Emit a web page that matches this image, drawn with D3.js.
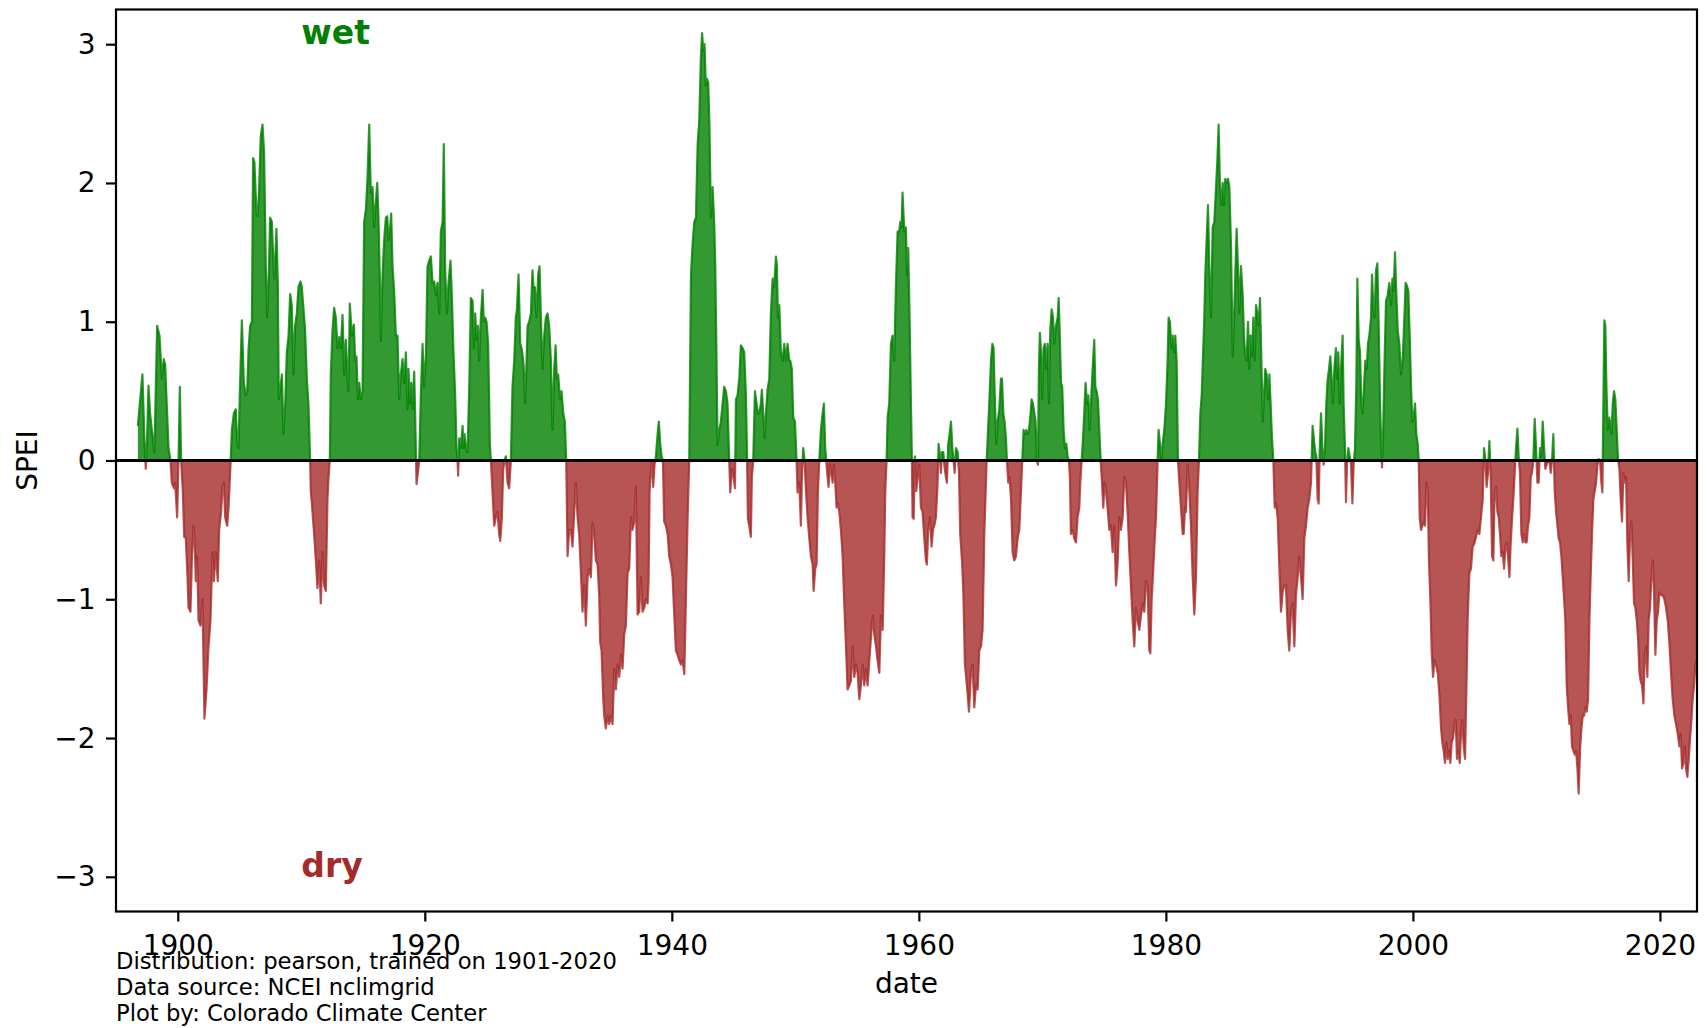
<!DOCTYPE html>
<html><head><meta charset="utf-8">
<script src="https://cdn.jsdelivr.net/npm/d3@7"></script>
<style>body{margin:0;background:#fff}svg{display:block}text{font-family:"DejaVu Sans",sans-serif}</style>
</head><body><svg id="c" width="1707" height="1028"></svg>
<script>
// [decimal year, SPEI]
const spei1896_1926 = [[1896.77,0.25],[1897.14,0.62],[1897.30,0.16],[1897.41,-0.06],[1897.52,0.16],[1897.63,0.54],[1897.76,0.34],[1897.90,0.22],[1898.11,0.06],[1898.33,0.97],[1898.52,0.90],[1898.71,0.59],[1898.87,0.73],[1898.98,0.69],[1899.14,0.34],[1899.25,0.09],[1899.41,0.00],[1899.52,-0.16],[1899.68,-0.20],[1899.79,-0.16],[1899.95,-0.41],[1900.06,0.00],[1900.17,0.53],[1900.27,0.00],[1900.41,-0.22],[1900.52,-0.55],[1900.65,-0.56],[1900.79,-0.84],[1900.87,-1.06],[1901.03,-1.09],[1901.14,-0.72],[1901.27,-0.47],[1901.35,-0.53],[1901.46,-0.87],[1901.57,-0.69],[1901.68,-1.15],[1901.84,-1.19],[1902.00,-1.00],[1902.16,-1.86],[1902.33,-1.65],[1902.49,-1.34],[1902.65,-1.15],[1902.81,-0.66],[1902.92,-0.87],[1903.08,-0.66],[1903.24,-0.87],[1903.35,-0.50],[1903.51,-0.37],[1903.62,-0.19],[1903.73,-0.16],[1903.84,-0.41],[1904.00,-0.47],[1904.11,-0.34],[1904.27,-0.03],[1904.38,0.22],[1904.54,0.34],[1904.70,0.37],[1904.81,0.12],[1904.92,0.09],[1905.02,0.47],[1905.19,1.01],[1905.35,0.56],[1905.51,0.47],[1905.62,0.50],[1905.73,0.80],[1905.86,0.97],[1906.00,1.00],[1906.10,2.18],[1906.21,2.15],[1906.37,1.78],[1906.48,1.76],[1906.59,1.97],[1906.72,2.34],[1906.86,2.42],[1906.99,2.22],[1907.13,1.40],[1907.24,1.03],[1907.35,1.28],[1907.48,1.75],[1907.62,1.72],[1907.75,1.40],[1907.83,1.31],[1907.99,1.67],[1908.10,1.28],[1908.18,0.44],[1908.32,0.53],[1908.43,0.62],[1908.56,0.19],[1908.70,0.41],[1908.83,0.78],[1908.97,0.90],[1909.10,1.20],[1909.23,1.12],[1909.37,0.62],[1909.50,0.97],[1909.64,1.06],[1909.77,1.25],[1909.94,1.29],[1910.04,1.25],[1910.21,1.06],[1910.31,0.94],[1910.45,0.59],[1910.58,0.41],[1910.72,0.00],
[1910.77,-0.22],[1910.91,-0.37],[1911.04,-0.53],[1911.18,-0.72],[1911.31,-0.92],[1911.45,-0.72],[1911.58,-1.03],[1911.72,-0.66],[1911.85,-0.90],[1911.99,-0.94],[1912.12,-0.28],[1912.21,-0.12],[1912.31,0.00],[1912.39,0.62],[1912.53,0.94],[1912.66,1.10],[1912.80,1.03],[1912.93,0.81],[1913.07,0.89],[1913.20,0.81],[1913.34,1.05],[1913.47,0.62],[1913.61,0.87],[1913.74,0.59],[1913.82,0.50],[1913.93,1.13],[1914.09,0.90],[1914.26,0.98],[1914.36,0.72],[1914.47,0.75],[1914.58,0.44],[1914.69,0.56],[1914.82,0.44],[1914.96,0.50],[1915.09,1.72],[1915.23,1.81],[1915.36,2.03],[1915.50,2.42],[1915.63,1.93],[1915.77,1.97],[1915.90,1.68],[1916.04,1.87],[1916.15,2.00],[1916.25,1.75],[1916.36,1.31],[1916.44,0.86],[1916.58,1.34],[1916.71,1.59],[1916.85,1.75],[1916.96,1.76],[1917.06,1.59],[1917.17,1.65],[1917.28,1.78],[1917.39,1.40],[1917.52,1.22],[1917.66,0.90],[1917.79,0.90],[1917.93,0.44],[1918.06,0.62],[1918.20,0.73],[1918.33,0.56],[1918.47,0.78],[1918.60,0.37],[1918.68,0.66],[1918.79,0.41],[1918.90,0.56],[1919.01,0.37],[1919.14,0.64],[1919.22,0.34],[1919.33,-0.17],[1919.44,-0.09],[1919.55,0.00],[1919.68,0.47],[1919.82,0.84],[1919.95,0.53],[1920.09,0.75],[1920.22,1.40],[1920.36,1.44],[1920.49,1.47],[1920.63,1.28],[1920.76,1.29],[1920.90,1.19],[1921.03,1.28],[1921.17,1.06],[1921.30,1.65],[1921.44,1.72],[1921.54,2.28],[1921.65,1.37],[1921.79,1.06],[1921.92,1.28],[1922.08,1.44],[1922.19,1.19],[1922.30,0.84],[1922.46,0.47],[1922.57,0.09],[1922.65,0.00],[1922.70,-0.11],[1922.79,0.16],[1922.92,0.09],[1923.06,0.25],[1923.14,0.09],[1923.22,0.19],[1923.33,0.09],[1923.46,0.06],[1923.60,0.53],[1923.73,1.17],[1923.87,1.15],[1923.97,0.81],[1924.08,1.06],[1924.19,0.87],[1924.30,0.97],[1924.40,0.72],[1924.54,1.03],[1924.68,1.23],[1924.78,1.00],[1924.89,1.03],[1925.00,1.00],[1925.13,0.84],[1925.27,0.12],[1925.35,0.00],[1925.48,-0.22],[1925.62,-0.47],[1925.75,-0.41],[1925.89,-0.37],[1926.02,-0.53],[1926.11,-0.58],[1926.24,-0.41],[1926.35,-0.06],[1926.46,0.00],[1926.56,0.03],[1926.70,-0.16],[1926.83,-0.20],[1926.97,0.00]];

const spei1927_1958 = [[1927.10,0.53],[1927.24,0.72],[1927.37,1.03],[1927.46,1.09],[1927.59,1.34],[1927.73,0.84],[1927.86,0.80],[1928.00,0.69],[1928.13,0.41],[1928.24,0.72],[1928.32,0.97],[1928.45,1.00],[1928.59,1.06],[1928.72,1.37],[1928.80,1.25],[1928.91,1.25],[1929.05,1.03],[1929.18,1.34],[1929.29,1.40],[1929.40,1.03],[1929.53,0.66],[1929.67,0.90],[1929.80,1.03],[1929.94,1.06],[1930.07,0.97],[1930.21,0.72],[1930.34,0.22],[1930.48,0.66],[1930.59,0.83],[1930.69,0.59],[1930.80,0.62],[1930.94,0.44],[1931.07,0.50],[1931.21,0.34],[1931.34,0.28],[1931.45,0.00],[1931.56,-0.69],[1931.69,-0.50],[1931.83,-0.50],[1931.96,-0.62],[1932.10,-0.37],[1932.23,-0.16],[1932.37,-0.41],[1932.50,-0.53],[1932.64,-0.81],[1932.77,-1.09],[1932.91,-0.90],[1933.04,-1.19],[1933.18,-0.84],[1933.31,-0.78],[1933.45,-0.84],[1933.58,-0.45],[1933.72,-0.53],[1933.85,-0.72],[1933.99,-0.75],[1934.12,-0.97],[1934.20,-1.31],[1934.31,-1.37],[1934.45,-1.72],[1934.53,-1.84],[1934.66,-1.93],[1934.80,-1.84],[1934.93,-1.90],[1935.07,-1.84],[1935.20,-1.90],[1935.34,-1.50],[1935.47,-1.65],[1935.61,-1.47],[1935.74,-1.56],[1935.88,-1.40],[1936.01,-1.50],[1936.15,-1.25],[1936.28,-1.19],[1936.42,-0.81],[1936.55,-0.78],[1936.69,-0.41],[1936.82,-0.50],[1936.96,-0.44],[1937.09,-0.19],[1937.23,-1.11],[1937.36,-1.09],[1937.50,-0.84],[1937.63,-1.09],[1937.77,-1.06],[1937.90,-1.00],[1938.04,-1.03],[1938.12,-0.87],[1938.20,-0.22],[1938.31,-0.06],[1938.39,0.00],[1938.49,-0.19],[1938.60,-0.03],[1938.71,0.03],[1938.85,0.19],[1938.95,0.28],[1939.06,0.12],[1939.17,0.03],[1939.28,0.00],[1939.38,-0.44],[1939.52,-0.47],[1939.66,-0.53],[1939.79,-0.69],[1939.93,-0.75],[1940.06,-0.84],[1940.20,-1.12],[1940.33,-1.37],[1940.47,-1.40],[1940.60,-1.44],[1940.74,-1.47],[1940.87,-1.44],[1941.01,-1.54],[1941.14,-1.00],[1941.28,-0.41],[1941.41,0.00],[1941.55,1.34],[1941.68,1.56],[1941.82,1.72],[1941.95,1.75],[1942.09,2.28],[1942.22,2.45],[1942.35,2.90],[1942.45,3.08],[1942.55,2.95],[1942.65,3.00],[1942.75,2.70],[1942.85,2.75],[1942.95,2.72],[1943.05,2.40],[1943.12,2.00],[1943.16,1.75],[1943.30,1.97],[1943.43,1.72],[1943.52,1.40],[1943.62,0.72],[1943.70,0.11],[1943.84,0.22],[1943.97,0.28],[1944.11,0.41],[1944.24,0.53],[1944.38,0.50],[1944.51,0.41],[1944.65,0.00],[1944.73,-0.23],[1944.87,-0.06],[1945.00,-0.12],[1945.11,-0.20],[1945.19,0.44],[1945.32,0.47],[1945.46,0.59],[1945.59,0.83],[1945.73,0.81],[1945.86,0.78],[1946.00,0.47],[1946.08,0.09],[1946.16,-0.42],[1946.27,-0.47],[1946.40,-0.55],[1946.48,-0.12],[1946.59,0.00],[1946.73,0.50],[1946.86,0.41],[1946.97,0.34],[1947.08,0.34],[1947.21,0.41],[1947.29,0.51],[1947.40,0.34],[1947.51,0.16],[1947.62,0.34],[1947.75,0.51],[1947.89,0.59],[1948.02,1.06],[1948.16,1.31],[1948.29,1.25],[1948.43,1.47],[1948.51,1.40],[1948.59,1.03],[1948.70,1.12],[1948.83,0.78],[1948.97,0.72],[1949.10,0.84],[1949.24,0.72],[1949.37,0.84],[1949.51,0.72],[1949.59,0.72],[1949.72,0.66],[1949.83,0.31],[1949.97,0.28],[1950.10,0.00],[1950.18,-0.23],[1950.32,-0.16],[1950.45,-0.47],[1950.53,-0.12],[1950.64,0.09],[1950.75,0.00],[1950.86,-0.22],[1950.99,-0.41],[1951.13,-0.56],[1951.26,-0.69],[1951.40,-0.75],[1951.48,-0.94],[1951.61,-0.78],[1951.72,-0.75],[1951.83,-0.22],[1951.94,0.00],[1952.07,0.22],[1952.21,0.34],[1952.31,0.41],[1952.42,0.09],[1952.50,0.00],[1952.58,-0.09],[1952.69,-0.19],[1952.80,-0.03],[1952.91,-0.09],[1953.02,-0.16],[1953.12,-0.03],[1953.23,-0.16],[1953.34,-0.34],[1953.45,-0.31],[1953.56,-0.37],[1953.69,-0.50],[1953.83,-0.69],[1953.96,-1.03],[1954.10,-1.34],[1954.23,-1.65],[1954.37,-1.62],[1954.50,-1.59],[1954.64,-1.34],[1954.77,-1.56],[1954.91,-1.47],[1955.04,-1.53],[1955.18,-1.72],[1955.31,-1.62],[1955.45,-1.47],[1955.58,-1.62],[1955.72,-1.50],[1955.85,-1.62],[1955.99,-1.44],[1956.12,-1.28],[1956.26,-1.12],[1956.39,-1.25],[1956.53,-1.34],[1956.66,-1.44],[1956.80,-1.53],[1956.93,-1.12],[1957.07,-1.22],[1957.20,-0.69],[1957.28,-0.22],[1957.39,0.00],[1957.47,0.31],[1957.60,0.41],[1957.74,0.84],[1957.87,0.90],[1958.01,0.72],[1958.14,1.25],[1958.28,1.65],[1958.41,1.65],[1958.50,1.72],[1958.60,1.68],[1958.68,1.93],[1958.82,1.65],[1958.95,1.68]];

const spei1959_1989 = [[1959.04,1.34],[1959.14,1.53],[1959.25,1.03],[1959.36,0.41],[1959.44,0.00],[1959.49,-0.41],[1959.58,-0.42],[1959.68,0.03],[1959.79,-0.22],[1959.90,-0.12],[1960.03,-0.03],[1960.17,-0.34],[1960.30,-0.37],[1960.44,-0.56],[1960.57,-0.72],[1960.65,-0.75],[1960.76,-0.50],[1960.90,-0.41],[1961.03,-0.62],[1961.14,-0.50],[1961.25,-0.47],[1961.38,-0.41],[1961.52,-0.16],[1961.60,0.12],[1961.71,0.03],[1961.79,-0.09],[1961.87,0.06],[1961.98,0.06],[1962.06,-0.03],[1962.19,-0.12],[1962.27,-0.16],[1962.38,0.12],[1962.49,0.19],[1962.60,0.28],[1962.71,0.09],[1962.81,0.00],[1962.90,-0.09],[1963.00,0.09],[1963.14,0.06],[1963.25,-0.09],[1963.35,-0.53],[1963.49,-0.72],[1963.60,-0.94],[1963.73,-1.47],[1963.89,-1.62],[1964.06,-1.81],[1964.22,-1.53],[1964.35,-1.47],[1964.49,-1.78],[1964.62,-1.62],[1964.76,-1.65],[1964.89,-1.37],[1965.03,-1.34],[1965.16,-1.22],[1965.30,-0.53],[1965.41,-0.22],[1965.49,0.00],[1965.57,0.16],[1965.70,0.41],[1965.84,0.72],[1965.95,0.84],[1966.05,0.81],[1966.16,0.41],[1966.27,0.12],[1966.38,0.28],[1966.51,0.37],[1966.65,0.59],[1966.73,0.59],[1966.84,0.34],[1966.94,0.28],[1967.05,0.16],[1967.13,0.00],[1967.24,-0.16],[1967.35,-0.12],[1967.46,-0.28],[1967.59,-0.66],[1967.73,-0.72],[1967.86,-0.69],[1968.00,-0.56],[1968.13,-0.50],[1968.27,-0.22],[1968.37,0.00],[1968.48,0.22],[1968.59,0.19],[1968.70,0.22],[1968.81,0.19],[1968.91,0.22],[1969.02,0.31],[1969.13,0.44],[1969.24,0.41],[1969.35,0.34],[1969.45,0.28],[1969.56,0.00],[1969.64,-0.03],[1969.72,0.66],[1969.80,0.92],[1969.89,0.78],[1969.99,0.44],[1970.10,0.81],[1970.21,0.84],[1970.32,0.66],[1970.43,0.84],[1970.53,0.41],[1970.64,0.94],[1970.75,1.09],[1970.86,1.03],[1970.97,0.84],[1971.10,0.97],[1971.24,1.03],[1971.32,1.17],[1971.42,0.87],[1971.51,0.56],[1971.61,0.53],[1971.72,0.22],[1971.83,0.09],[1971.94,0.12],[1972.04,0.03],[1972.15,0.00],[1972.23,-0.12],[1972.31,-0.53],[1972.45,-0.50],[1972.58,-0.56],[1972.72,-0.59],[1972.85,-0.41],[1972.99,-0.34],[1973.07,-0.16],[1973.18,0.00],[1973.29,0.16],[1973.39,0.34],[1973.50,0.56],[1973.61,0.41],[1973.72,0.47],[1973.83,0.22],[1973.93,0.41],[1974.07,0.66],[1974.20,0.87],[1974.29,0.53],[1974.39,0.50],[1974.50,0.44],[1974.61,0.22],[1974.72,0.00],[1974.83,-0.16],[1974.93,-0.34],[1975.04,-0.16],[1975.15,-0.22],[1975.28,-0.34],[1975.42,-0.50],[1975.55,-0.47],[1975.69,-0.66],[1975.82,-0.47],[1975.96,-0.90],[1976.09,-0.75],[1976.23,-0.41],[1976.36,-0.50],[1976.50,-0.41],[1976.63,-0.12],[1976.77,-0.16],[1976.90,-0.37],[1977.04,-0.66],[1977.17,-0.90],[1977.31,-1.15],[1977.44,-1.34],[1977.58,-1.06],[1977.71,-1.15],[1977.85,-1.22],[1977.98,-1.12],[1978.12,-1.03],[1978.25,-1.09],[1978.39,-0.87],[1978.52,-0.90],[1978.66,-1.37],[1978.74,-1.39],[1978.85,-1.00],[1978.98,-0.78],[1979.12,-0.53],[1979.20,-0.41],[1979.33,0.00],[1979.41,0.22],[1979.52,0.12],[1979.63,0.00],[1979.74,0.12],[1979.87,0.22],[1980.01,0.41],[1980.14,0.72],[1980.22,1.03],[1980.33,1.00],[1980.44,0.81],[1980.55,0.90],[1980.66,0.78],[1980.76,0.90],[1980.87,0.72],[1980.98,0.00],[1981.09,-0.16],[1981.22,-0.34],[1981.36,-0.53],[1981.44,-0.53],[1981.55,-0.34],[1981.63,-0.37],[1981.76,-0.03],[1981.90,-0.22],[1982.03,-0.47],[1982.17,-0.84],[1982.30,-1.11],[1982.44,-0.84],[1982.57,-0.22],[1982.68,0.00],[1982.79,0.34],[1982.90,0.47],[1982.98,0.69],[1983.11,1.03],[1983.19,1.34],[1983.30,1.59],[1983.41,1.84],[1983.52,1.37],[1983.65,1.03],[1983.79,1.68],[1983.92,1.72],[1984.06,1.97],[1984.16,2.15],[1984.27,2.42],[1984.38,1.97],[1984.49,1.84],[1984.60,2.00],[1984.70,1.84],[1984.81,2.03],[1984.92,2.00],[1985.03,2.03],[1985.14,1.97],[1985.27,1.56],[1985.41,0.75],[1985.51,1.00],[1985.62,1.34],[1985.73,1.67],[1985.84,1.37],[1985.95,1.06],[1986.08,1.40],[1986.22,1.19],[1986.32,0.90],[1986.43,0.75],[1986.54,0.72],[1986.65,1.00],[1986.76,0.66],[1986.86,0.90],[1986.97,0.75],[1987.08,1.03],[1987.19,0.72],[1987.30,1.12],[1987.40,1.06],[1987.51,0.97],[1987.62,1.17],[1987.73,0.72],[1987.84,0.28],[1987.94,0.47],[1988.05,0.66],[1988.16,0.62],[1988.27,0.44],[1988.38,0.62],[1988.48,0.41],[1988.59,0.16],[1988.70,0.00],[1988.81,-0.34],[1988.92,-0.31],[1989.05,-0.41],[1989.19,-0.78],[1989.32,-1.09],[1989.46,-0.94],[1989.59,-0.90]];

const spei1990_2022 = [[1989.72,-0.90],[1989.86,-1.22],[1989.99,-1.37],[1990.13,-1.09],[1990.26,-1.03],[1990.40,-1.34],[1990.53,-0.97],[1990.67,-0.84],[1990.80,-0.69],[1990.94,-0.84],[1991.07,-1.00],[1991.21,-0.56],[1991.34,-0.47],[1991.48,-0.34],[1991.61,-0.28],[1991.75,-0.16],[1991.80,0.00],[1991.88,0.25],[1992.02,0.12],[1992.10,0.06],[1992.18,0.03],[1992.29,-0.28],[1992.37,-0.31],[1992.45,0.06],[1992.56,0.34],[1992.67,0.09],[1992.77,-0.03],[1992.88,0.09],[1992.99,0.41],[1993.10,0.59],[1993.21,0.66],[1993.31,0.75],[1993.42,0.59],[1993.53,0.41],[1993.64,0.66],[1993.77,0.81],[1993.85,0.59],[1993.96,0.78],[1994.07,0.41],[1994.18,0.66],[1994.31,0.90],[1994.39,0.41],[1994.50,0.09],[1994.58,-0.30],[1994.66,-0.03],[1994.77,0.09],[1994.88,0.03],[1994.99,-0.03],[1995.10,-0.31],[1995.20,-0.03],[1995.31,0.09],[1995.42,0.56],[1995.50,1.31],[1995.61,0.87],[1995.72,0.78],[1995.82,0.41],[1995.93,0.34],[1996.04,0.53],[1996.15,0.72],[1996.26,0.66],[1996.36,0.84],[1996.47,0.90],[1996.61,1.03],[1996.69,1.34],[1996.80,1.09],[1996.90,1.03],[1997.01,1.37],[1997.12,1.42],[1997.23,0.97],[1997.34,0.41],[1997.42,0.16],[1997.50,-0.05],[1997.58,0.16],[1997.69,0.66],[1997.82,1.15],[1997.96,1.19],[1998.09,1.28],[1998.23,1.12],[1998.34,1.31],[1998.44,1.22],[1998.55,1.50],[1998.66,1.19],[1998.77,0.94],[1998.90,0.84],[1999.04,0.62],[1999.17,0.72],[1999.31,1.03],[1999.41,1.28],[1999.52,1.26],[1999.63,1.22],[1999.74,0.90],[1999.85,0.53],[1999.95,0.28],[2000.06,0.31],[2000.17,0.41],[2000.28,0.19],[2000.39,0.12],[2000.47,0.00],[2000.55,-0.41],[2000.66,-0.50],[2000.76,-0.47],[2000.87,-0.44],[2000.98,-0.47],[2001.09,-0.16],[2001.20,-0.22],[2001.30,-0.72],[2001.41,-1.00],[2001.52,-1.37],[2001.63,-1.56],[2001.74,-1.44],[2001.87,-1.47],[2002.01,-1.53],[2002.14,-1.68],[2002.28,-1.93],[2002.38,-2.03],[2002.49,-2.09],[2002.60,-2.18],[2002.71,-2.03],[2002.82,-2.15],[2002.92,-2.09],[2003.03,-2.18],[2003.14,-2.03],[2003.25,-2.00],[2003.36,-1.90],[2003.46,-1.87],[2003.57,-2.15],[2003.68,-2.09],[2003.79,-2.18],[2003.89,-1.97],[2004.00,-1.87],[2004.11,-2.06],[2004.22,-2.15],[2004.33,-1.65],[2004.43,-1.15],[2004.57,-0.81],[2004.70,-0.78],[2004.84,-0.62],[2004.97,-0.60],[2005.11,-0.55],[2005.24,-0.50],[2005.38,-0.53],[2005.51,-0.41],[2005.65,-0.28],[2005.76,0.09],[2005.87,0.00],[2005.97,-0.19],[2006.08,-0.09],[2006.19,0.14],[2006.30,-0.12],[2006.41,-0.69],[2006.51,-0.72],[2006.62,-0.22],[2006.73,-0.19],[2006.84,-0.37],[2006.95,-0.41],[2007.05,-0.53],[2007.16,-0.69],[2007.27,-0.66],[2007.38,-0.78],[2007.49,-0.62],[2007.59,-0.59],[2007.70,-0.69],[2007.81,-0.84],[2007.92,-0.59],[2008.03,-0.41],[2008.13,-0.28],[2008.24,-0.09],[2008.35,0.09],[2008.46,0.23],[2008.56,0.03],[2008.67,-0.09],[2008.78,-0.53],[2008.89,-0.59],[2009.00,-0.53],[2009.10,-0.59],[2009.21,-0.59],[2009.32,-0.47],[2009.43,-0.41],[2009.54,-0.12],[2009.64,-0.09],[2009.75,0.00],[2009.86,0.30],[2009.97,0.09],[2010.08,-0.16],[2010.18,-0.16],[2010.29,0.09],[2010.40,0.03],[2010.51,0.28],[2010.62,0.09],[2010.72,-0.06],[2010.83,-0.03],[2010.94,0.00],[2011.05,0.00],[2011.16,-0.09],[2011.26,0.00],[2011.37,0.19],[2011.48,-0.22],[2011.59,-0.37],[2011.70,-0.47],[2011.80,-0.56],[2011.91,-0.59],[2012.02,-0.69],[2012.13,-0.84],[2012.24,-1.00],[2012.34,-1.15],[2012.45,-1.62],[2012.56,-1.78],[2012.67,-1.90],[2012.78,-1.84],[2012.88,-2.06],[2012.99,-2.09],[2013.10,-2.12],[2013.21,-2.09],[2013.32,-2.22],[2013.42,-2.40],[2013.53,-2.09],[2013.64,-1.93],[2013.75,-1.84],[2013.85,-1.84],[2013.96,-1.78],[2014.07,-1.81],[2014.18,-1.72],[2014.29,-1.15],[2014.39,-0.84],[2014.50,-0.53],[2014.61,-0.28],[2014.72,-0.22],[2014.83,-0.16],[2014.94,-0.03],[2015.04,0.01],[2015.15,0.00],[2015.26,-0.16],[2015.34,-0.23],[2015.42,0.41],[2015.50,1.01],[2015.58,0.97],[2015.66,0.56],[2015.77,0.22],[2015.88,0.31],[2015.96,0.28],[2016.07,0.19],[2016.18,0.41],[2016.28,0.50],[2016.39,0.44],[2016.50,0.22],[2016.61,0.00],[2016.72,-0.06],[2016.82,-0.28],[2016.93,-0.44],[2017.04,-0.09],[2017.15,-0.16],[2017.26,-0.12],[2017.36,-0.59],[2017.47,-0.87],[2017.58,-0.53],[2017.69,-0.44],[2017.80,-0.72],[2017.90,-1.03],[2018.01,-1.06],[2018.12,-1.15],[2018.23,-1.28],[2018.34,-1.53],[2018.44,-1.59],[2018.55,-1.62],[2018.66,-1.75],[2018.77,-1.40],[2018.87,-1.34],[2018.98,-1.56],[2019.09,-1.15],[2019.20,-1.06],[2019.31,-0.84],[2019.42,-0.72],[2019.52,-0.94],[2019.63,-1.40],[2019.74,-1.15],[2019.85,-1.09],[2019.95,-0.95],[2020.09,-0.97],[2020.22,-0.97],[2020.36,-1.00],[2020.49,-1.06],[2020.63,-1.15],[2020.76,-1.31],[2020.90,-1.53],[2021.03,-1.72],[2021.17,-1.84],[2021.30,-1.90],[2021.44,-1.97],[2021.57,-2.06],[2021.68,-1.97],[2021.79,-2.22],[2021.90,-2.18],[2022.01,-2.06],[2022.11,-2.22],[2022.22,-2.28],[2022.33,-2.15],[2022.44,-2.00],[2022.55,-1.87],[2022.65,-1.72],[2022.76,-1.62],[2022.87,-1.47],[2022.98,-1.44]];

const xTickYears = [1900,1920,1940,1960,1980,2000,2020];
const yTickValues = [-3,-2,-1,0,1,2,3];
const footnotes = ["Distribution: pearson, trained on 1901-2020","Data source: NCEI nclimgrid","Plot by: Colorado Climate Center"];
const wetLabel = "wet", dryLabel = "dry";
const xDomain = [1895, 2023], yDomain = [-3.25, 3.25];

const data = [].concat(spei1896_1926, spei1927_1958, spei1959_1989, spei1990_2022).map(d => ({t: d[0], v: d[1]}));

const L = 116, R = 1697, T = 9.5, B = 911.5;
const svg = d3.select("#c");
svg.append("rect").attr("width",1707).attr("height",1028).attr("fill","#fff");
const x = d3.scaleLinear().domain(xDomain).range([L, R]);
const y = d3.scaleLinear().domain(yDomain).range([B, T]);

const defs = svg.append("defs");
defs.append("clipPath").attr("id","above").append("rect")
  .attr("x", L).attr("y", T).attr("width", R - L).attr("height", y(0) - T);
defs.append("clipPath").attr("id","below").append("rect")
  .attr("x", L).attr("y", y(0)).attr("width", R - L).attr("height", B - y(0));

const area = d3.area().x(d => x(d.t)).y0(y(0)).y1(d => y(d.v));
const line = d3.line().x(d => x(d.t)).y(d => y(d.v));

[["above","#008000"],["below","#a52a2a"]].forEach(([clip,col]) => {
  const g = svg.append("g").attr("clip-path", `url(#${clip})`);
  g.append("path").datum(data).attr("d", area)
    .attr("fill", col).attr("fill-opacity", 0.8).attr("stroke","none");
  g.append("path").datum(data).attr("d", line)
    .attr("fill","none").attr("stroke", col).attr("stroke-opacity", 0.8)
    .attr("stroke-width", 2.2).attr("stroke-linejoin","round");
});

// zero line
svg.append("line").attr("x1", L).attr("x2", R).attr("y1", y(0)).attr("y2", y(0))
  .attr("stroke","#000").attr("stroke-width", 2.8);

// axes
const xAxis = svg.append("g").attr("transform", `translate(0,${B})`)
  .call(d3.axisBottom(x).tickValues(xTickYears).tickFormat(d3.format("d")).tickSize(10).tickPadding(13.5));
const yAxis = svg.append("g").attr("transform", `translate(${L},0)`)
  .call(d3.axisLeft(y).tickValues(yTickValues).tickFormat(d3.format("d")).tickSize(10).tickPadding(10.5));
[xAxis, yAxis].forEach(g => {
  g.select(".domain").remove();
  g.selectAll(".tick line").attr("stroke","#000").attr("stroke-width", 2.2);
  g.selectAll(".tick text").attr("fill","#000").style("font-size","28px").style("font-family","'DejaVu Sans'");
});

// frame
svg.append("rect").attr("x", L).attr("y", T).attr("width", R - L).attr("height", B - T)
  .attr("fill","none").attr("stroke","#000").attr("stroke-width", 2.2);

// wet / dry
svg.append("text").attr("x", x(1910)).attr("y", y(3)).text(wetLabel)
  .attr("fill","#008000").style("font-size","33px").style("font-weight","bold");
svg.append("text").attr("x", x(1910)).attr("y", y(-3)).text(dryLabel)
  .attr("fill","#a52a2a").style("font-size","33px").style("font-weight","bold");

// axis labels
svg.append("text").attr("x", (L + R) / 2).attr("y", 993).attr("text-anchor","middle")
  .style("font-size","28px").text("date");
svg.append("text").attr("transform", `translate(37,${y(0)}) rotate(-90)`).attr("text-anchor","middle")
  .style("font-size","28px").text("SPEI");

// footnotes
const fy = [969, 995, 1021];
footnotes.forEach((t, i) => {
  svg.append("text").attr("x", L).attr("y", fy[i]).style("font-size","22.7px").text(t);
});
</script></body></html>
